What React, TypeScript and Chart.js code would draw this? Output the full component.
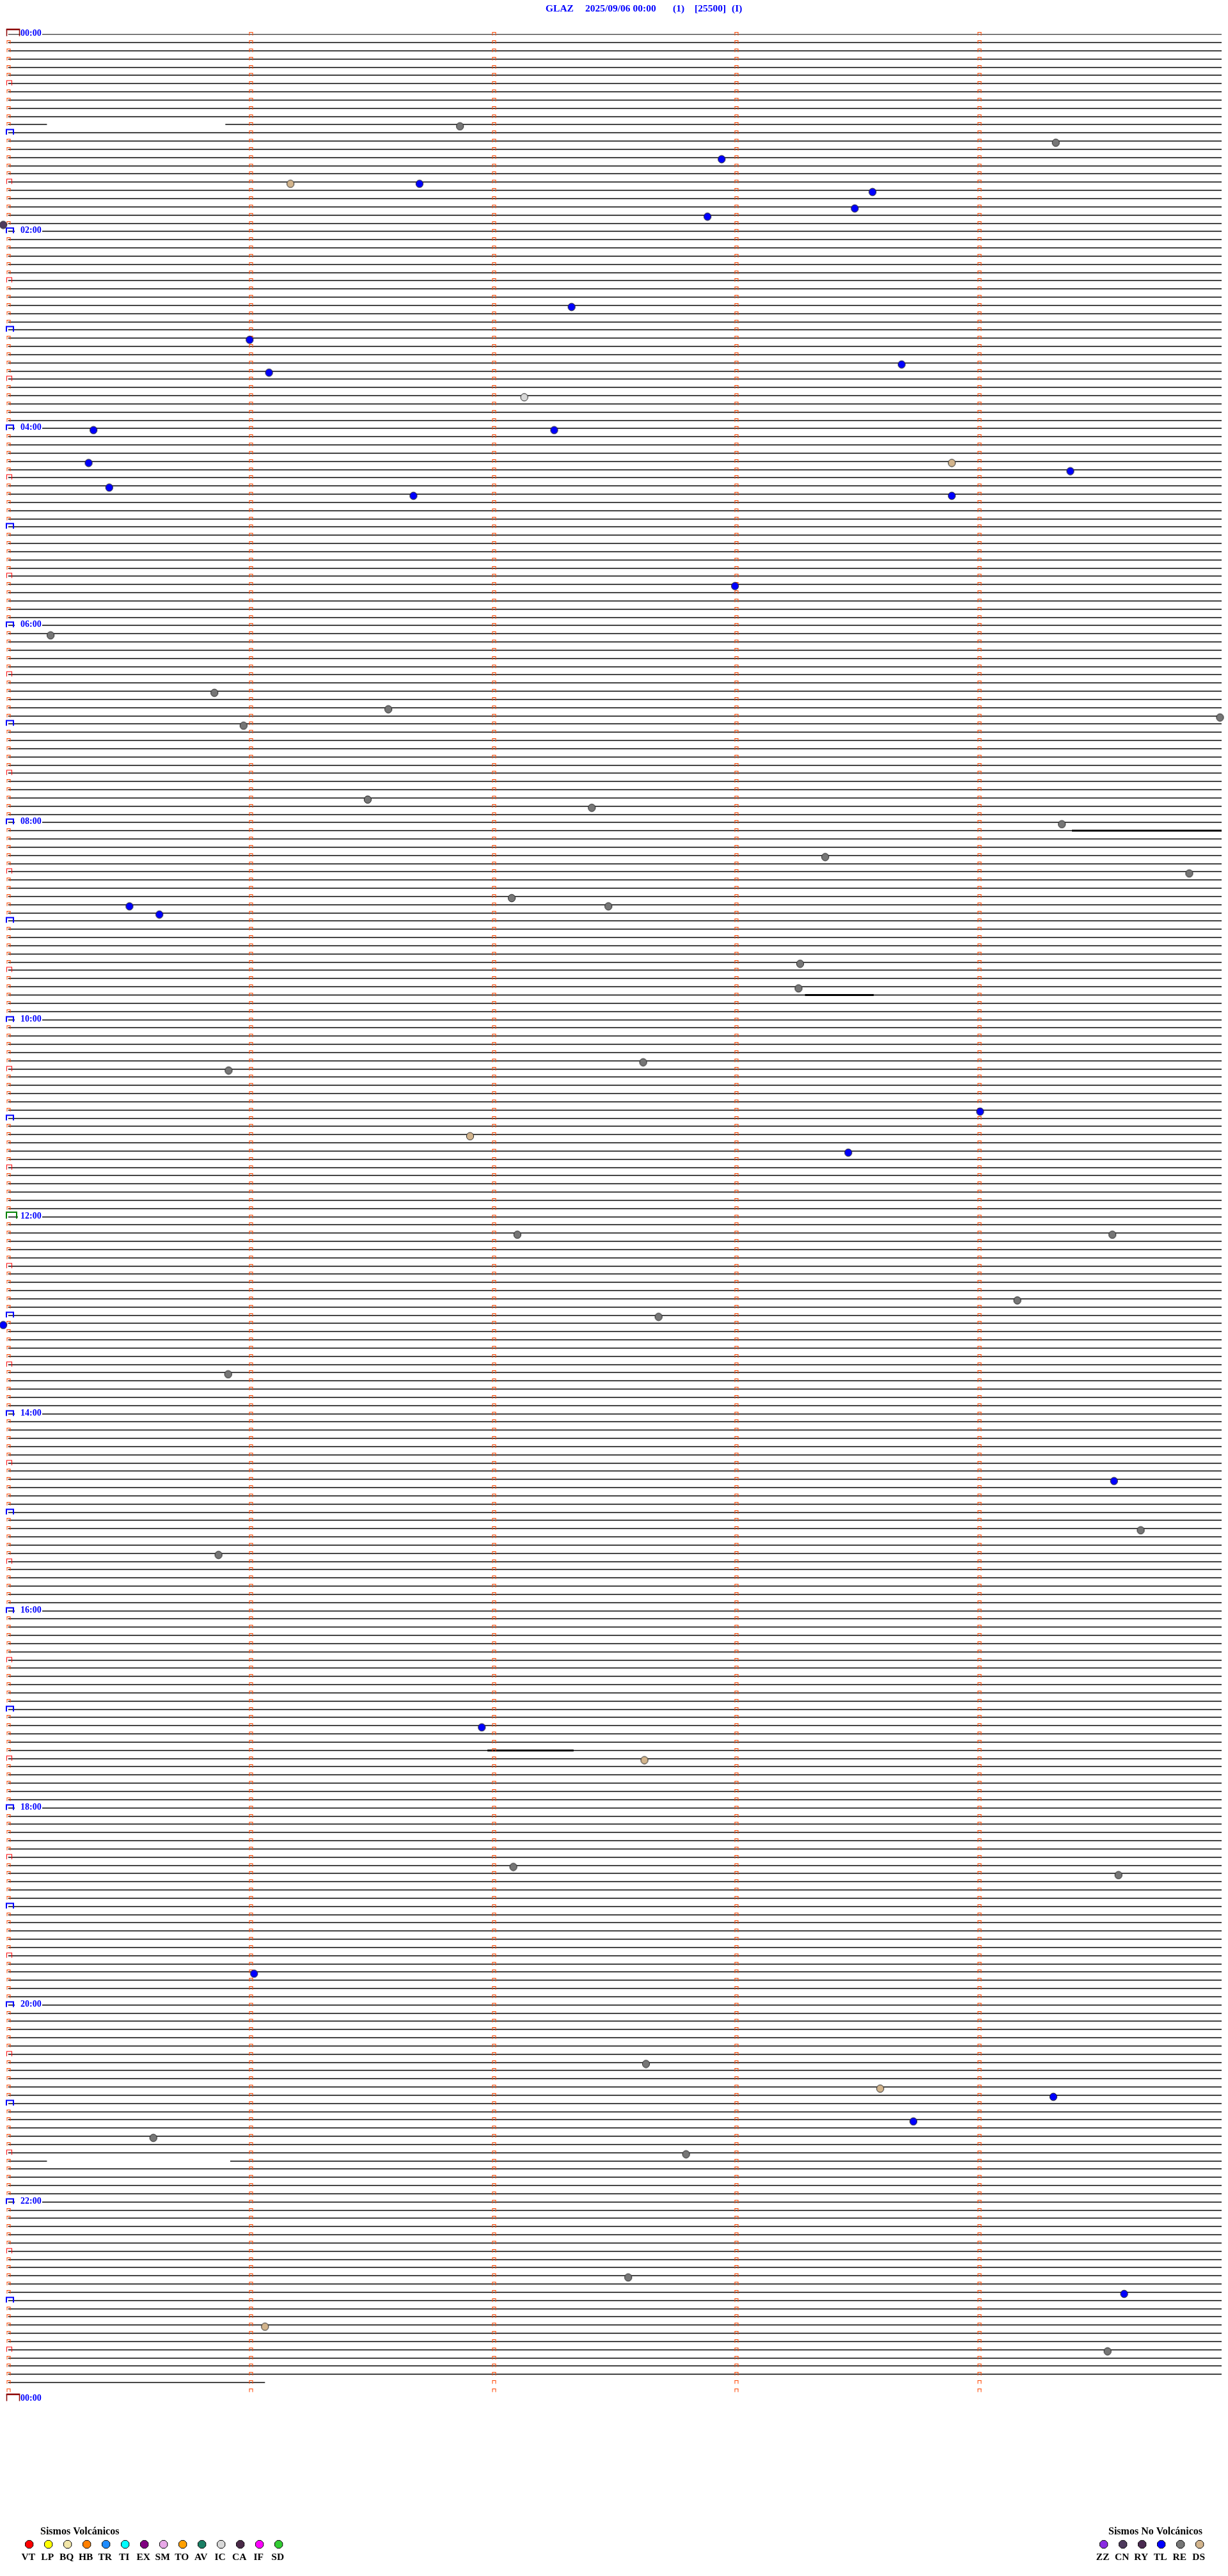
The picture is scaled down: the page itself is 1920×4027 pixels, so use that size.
import React, { useEffect, useRef } from 'react';
import { Chart, registerables } from 'chart.js';

Chart.register(...registerables);

// ---------------- data ----------------
const LINE_COUNT = 288; // 5-minute lines over 24 h
const LINE_SECONDS = 300;
const MINUTE_TICKS = [0, 60, 120, 180, 240];

const hourLabels = ['00:00', '02:00', '04:00', '06:00', '08:00', '10:00', '12:00', '14:00', '16:00', '18:00', '20:00', '22:00', '00:00'];

const titleParts = ['GLAZ', '2025/09/06 00:00', '(1)', '[25500]', '(I)'];

// [line, gapStartSec, gapEndSec]
const traceGaps = [
  [11, 9.6, 53.7],
  [259, 9.6, 54.9],
];
const lastTrace = 286;
const lastTraceEndSec = 63.5;

// stronger signal segments: [line, startSec, endSec]
const bursts = [
  [97, 263, 300],
  [117, 197, 214],
  [209, 118.5, 139.8],
];

// events: [line, second]
const evTL = [
  [15, 176.4], [18, 101.7], [19, 213.7], [21, 209.3], [22, 172.9], [33, 139.3], [37, 59.7],
  [40, 220.9], [41, 64.5], [48, 21.1], [48, 135.0], [52, 19.9], [53, 262.6], [55, 25.0],
  [56, 100.2], [56, 233.3], [67, 179.7], [106, 30.0], [107, 37.4], [131, 240.3], [136, 207.7],
  [157, -1.2], [176, 273.4], [206, 117.1], [236, 60.8], [251, 258.4], [254, 223.8], [275, 275.9],
];
const evRE = [
  [11, 111.7], [13, 259.0], [73, 10.5], [80, 51.0], [82, 94.0], [83, 299.6], [84, 58.2],
  [93, 88.9], [94, 144.3], [96, 260.5], [100, 202.0], [102, 292.0], [105, 124.5], [106, 148.4],
  [113, 195.8], [116, 195.4], [125, 157.0], [126, 54.5], [146, 125.9], [146, 273.0], [154, 249.5],
  [156, 160.8], [163, 54.4], [182, 280.0], [185, 52.0], [223, 124.9], [224, 274.5], [247, 157.7],
  [256, 35.9], [258, 167.6], [273, 153.3], [282, 271.8],
];
const evDS = [[18, 69.8], [52, 233.3], [134, 114.2], [210, 157.3], [250, 215.6], [279, 63.5]];
const evIC = [[44, 127.6]];
const evCN = [[23, -1.2]];

const volcanicCodes = ['VT', 'LP', 'BQ', 'HB', 'TR', 'TI', 'EX', 'SM', 'TO', 'AV', 'IC', 'CA', 'IF', 'SD'];
const volcanicColors = ['#FF0000', '#FFFF00', '#F2E6A8', '#FF8000', '#1E8CFF', '#00FFFF', '#800080', '#E8A8E8', '#FFA000', '#1A7F64', '#D8D8D8', '#4A2A48', '#FF00FF', '#33CC33'];
const nonVolcanicCodes = ['ZZ', 'CN', 'RY', 'TL', 'RE', 'DS'];
const nonVolcanicColors = ['#8A2BE2', '#4E3A5C', '#4A2A50', '#0000FF', '#767676', '#D2B48C'];

const eventSeries = [
  { code: 'TL', events: evTL },
  { code: 'RE', events: evRE },
  { code: 'DS', events: evDS },
  { code: 'IC', events: evIC },
  { code: 'CN', events: evCN },
];

// ---------------- helpers ----------------
const SERIF = '"Liberation Serif", "Times New Roman", serif';

function colorOf(code: string): string {
  const i = nonVolcanicCodes.indexOf(code);
  if (i >= 0) return nonVolcanicColors[i];
  const j = volcanicCodes.indexOf(code);
  return j >= 0 ? volcanicColors[j] : '#808080';
}

function makeDotImage(color: string): HTMLCanvasElement {
  const c = document.createElement('canvas');
  c.width = 14;
  c.height = 20;
  const g = c.getContext('2d')!;
  g.beginPath();
  g.ellipse(7, 13, 5.6, 5.9, 0, 0, Math.PI * 2);
  g.fillStyle = color;
  g.fill();
  g.lineWidth = 1;
  g.strokeStyle = '#2a2a2a';
  g.stroke();
  return c;
}

function buildTraceData() {
  const pts: any[] = [];
  for (let i = 0; i <= lastTrace && i < LINE_COUNT; i++) {
    const end = i === lastTrace ? lastTraceEndSec : LINE_SECONDS;
    const gap = traceGaps.find((g) => g[0] === i);
    if (gap) {
      pts.push({ x: 0, y: i }, { x: gap[1], y: i }, { x: gap[1], y: null });
      pts.push({ x: gap[2], y: i }, { x: end, y: i }, { x: end, y: null });
    } else {
      pts.push({ x: 0, y: i }, { x: end, y: i }, { x: end, y: null });
    }
  }
  return pts;
}

function buildBurstData() {
  const pts: any[] = [];
  bursts.forEach(([line, s, e]) => {
    pts.push({ x: s, y: line }, { x: e, y: line }, { x: e, y: null });
  });
  return pts;
}

function bracket(ctx: CanvasRenderingContext2D, xl: number, xr: number, yt: number, yb: number, color: string, lw: number, topLw?: number) {
  ctx.strokeStyle = color;
  ctx.lineWidth = lw;
  ctx.beginPath();
  ctx.moveTo(xl, yb);
  ctx.lineTo(xl, yt);
  ctx.moveTo(xr, yt);
  ctx.lineTo(xr, yb);
  ctx.stroke();
  ctx.lineWidth = topLw ?? lw;
  ctx.beginPath();
  ctx.moveTo(xl - lw / 2, yt);
  ctx.lineTo(xr + lw / 2, yt);
  ctx.stroke();
}

function octagon(ctx: CanvasRenderingContext2D, cx: number, cy: number, r: number, color: string) {
  ctx.beginPath();
  for (let k = 0; k < 8; k++) {
    const a = Math.PI / 8 + (k * Math.PI) / 4;
    const px = cx + r * Math.cos(a);
    const py = cy + r * Math.sin(a);
    if (k === 0) ctx.moveTo(px, py);
    else ctx.lineTo(px, py);
  }
  ctx.closePath();
  ctx.fillStyle = color;
  ctx.fill();
  ctx.lineWidth = 1;
  ctx.strokeStyle = '#000';
  ctx.stroke();
}

const heliPlugin = {
  id: 'heliDecor',
  beforeDatasetDraw(chart: any, args: any) {
    // snap trace rows to the pixel grid so they render as crisp black lines
    if (args.index !== 0 && args.index !== 1) return;
    args.meta.data.forEach((pt: any) => {
      if (!pt.skip && isFinite(pt.y)) pt.y = Math.round(pt.y) + 0.5;
    });
  },
  afterDatasetDraw(chart: any, args: any) {
    if (args.index !== 1) return;
    const ctx: CanvasRenderingContext2D = chart.ctx;
    const xs = chart.scales.x;
    const ys = chart.scales.y;
    const x0 = xs.getPixelForValue(0);
    ctx.save();
    // per-line minute markers
    for (let i = 0; i < LINE_COUNT; i++) {
      const y = Math.round(ys.getPixelForValue(i)) + 0.5;
      MINUTE_TICKS.forEach((sec) => {
        if (sec === 0 && i % 6 === 0) return;
        const xc = Math.round(xs.getPixelForValue(sec)) + 0.5;
        bracket(ctx, xc - 2.5, xc + 2.5, y - 3, y + 2, '#FF4500', 1);
      });
    }
    // hour / half-hour markers and labels
    for (let i = 0; i <= LINE_COUNT; i += 6) {
      const y = Math.round(ys.getPixelForValue(i)) + 0.5;
      const xl = Math.round(x0) - 3;
      let right = xl;
      if (i === 0 || i === LINE_COUNT) {
        right = xl + 20;
        bracket(ctx, xl + 0.5, right + 0.5, y - 7.5, y + 3, '#8B0000', 1.5, 2.5);
      } else if (i === LINE_COUNT / 2) {
        right = xl + 16;
        bracket(ctx, xl, right, y - 7.5, y + 2.5, '#008000', 2);
      } else if (i % 12 === 0) {
        right = xl + 11;
        bracket(ctx, xl, right, y - 5, y + 3, '#0000FF', 2);
      } else {
        right = xl + 8;
        bracket(ctx, xl + 0.5, right + 0.5, y - 4.5, y + 3, '#FF0000', 1);
      }
      if (i % 24 === 0) {
        const label = hourLabels[i / 24];
        ctx.fillStyle = '#FFFFFF';
        ctx.fillRect(right + 2, y - 7.5, 66 - (right + 2), 11);
        ctx.fillStyle = '#0000FF';
        ctx.font = `bold 14px ${SERIF}`;
        ctx.textAlign = 'left';
        ctx.textBaseline = 'alphabetic';
        ctx.fillText(label, 32, y + 2.5);
      }
    }
    ctx.restore();
  },
  afterDraw(chart: any) {
    const ctx: CanvasRenderingContext2D = chart.ctx;
    ctx.save();
    // title
    const titleX = [853, 915, 1052, 1086, 1144];
    ctx.fillStyle = '#0000FF';
    ctx.font = `bold 15.5px ${SERIF}`;
    ctx.textAlign = 'left';
    ctx.textBaseline = 'alphabetic';
    titleParts.forEach((t, k) => ctx.fillText(t, titleX[k], 18));

    // legends
    ctx.fillStyle = '#000';
    ctx.font = `bold 16px ${SERIF}`;
    ctx.fillText('Sismos Volcánicos', 63, 3962);
    ctx.fillText('Sismos No Volcánicos', 1733, 3962);

    const drawGroup = (codes: string[], colors: string[], startX: number) => {
      codes.forEach((code, k) => {
        const cx = startX + k * 30;
        octagon(ctx, cx, 3977.5, 6.6, colors[k]);
        ctx.fillStyle = '#000';
        ctx.font = `bold 15.5px ${SERIF}`;
        ctx.textAlign = 'center';
        ctx.fillText(code, cx - 1.5, 4001.5);
      });
    };
    drawGroup(volcanicCodes, volcanicColors, 45.7);
    drawGroup(nonVolcanicCodes, nonVolcanicColors, 1725.7);
    ctx.restore();
  },
};

export default function App() {
  const ref = useRef<HTMLCanvasElement | null>(null);

  useEffect(() => {
    const canvas = ref.current;
    if (!canvas) return;

    const dotSets = eventSeries.map((s) => ({
      type: 'scatter' as const,
      label: s.code,
      data: s.events.map(([line, sec]) => ({ x: sec, y: line })),
      pointStyle: makeDotImage(colorOf(s.code)),
      pointRadius: 10,
      pointHoverRadius: 10,
      pointBorderWidth: 0,
      showLine: false,
      clip: false,
      order: 0,
    }));

    const chart = new Chart(canvas, {
      type: 'scatter',
      data: {
        datasets: [
          {
            type: 'line',
            label: 'traces',
            data: buildTraceData(),
            borderColor: '#000000',
            borderWidth: 1.5,
            pointRadius: 0,
            pointHoverRadius: 0,
            showLine: true,
            spanGaps: false,
            tension: 0,
            order: 3,
          } as any,
          {
            type: 'line',
            label: 'bursts',
            data: buildBurstData(),
            borderColor: '#000000',
            borderWidth: 3,
            pointRadius: 0,
            pointHoverRadius: 0,
            showLine: true,
            spanGaps: false,
            tension: 0,
            order: 2,
          } as any,
          ...dotSets,
        ],
      },
      options: {
        responsive: false,
        maintainAspectRatio: false,
        animation: false,
        devicePixelRatio: 1,
        events: [],
        layout: { padding: { left: 12.7, right: 7.3, top: 53.3, bottom: 277.2 } },
        scales: {
          x: { type: 'linear', min: 0, max: LINE_SECONDS, display: false },
          y: { type: 'linear', min: 0, max: LINE_COUNT, reverse: true, display: false },
        },
        plugins: {
          legend: { display: false },
          tooltip: { enabled: false },
          title: { display: false },
        },
      } as any,
      plugins: [heliPlugin as any],
    });

    return () => chart.destroy();
  }, []);

  return (
    <div style={{ position: 'absolute', left: 0, top: 0, width: 1920, height: 4027, background: '#fff' }}>
      <canvas ref={ref} width={1920} height={4027} style={{ width: 1920, height: 4027, display: 'block' }} />
    </div>
  );
}
